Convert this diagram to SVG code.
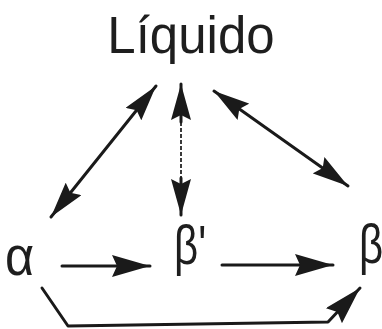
<svg xmlns="http://www.w3.org/2000/svg" width="382" height="329" viewBox="0 0 382 329">
<style>
.lbl{font-family:"Liberation Sans",Arial,sans-serif;fill:#1e1e1e}
.ln{fill:none;stroke:#1a1a1a;stroke-width:3;stroke-linecap:round;stroke-linejoin:round}
.dash{fill:none;stroke:#3a3a3a;stroke-width:2;stroke-dasharray:4 2}
</style>
<defs>
<marker id="ah" viewBox="0 0 36 20" refX="36" refY="10" markerWidth="36" markerHeight="20" markerUnits="userSpaceOnUse" orient="auto-start-reverse">
<path d="M0,0 L36,10 L0,20 L5,10 z" fill="#1a1a1a"/>
</marker>
<marker id="ahw" viewBox="0 0 38 22" refX="38" refY="11" markerWidth="38" markerHeight="22" markerUnits="userSpaceOnUse" orient="auto-start-reverse">
<path d="M0,0 L38,11 L0,22 L5,11 z" fill="#1a1a1a"/>
</marker>
</defs>
<g id="liquido"><text class="lbl" x="191" y="53" font-size="51" text-anchor="middle">Líquido</text></g>
<g id="alpha"><text class="lbl" font-size="56" transform="translate(5,275) scale(0.9,1)">α</text></g>
<g id="betaprime"><text class="lbl" font-size="56" transform="translate(174,264) scale(0.75,1)">β'</text></g>
<g id="beta"><text class="lbl" font-size="56" transform="translate(359,263) scale(0.75,1)">β</text></g>
<g id="connectors">
<line class="ln" x1="156" y1="86" x2="51" y2="217" marker-start="url(#ah)" marker-end="url(#ah)"/>
<line class="dash" x1="181" y1="110" x2="181" y2="190"/>
<line class="ln" x1="181" y1="84" x2="181" y2="122" marker-start="url(#ah)" stroke-width="2"/>
<line class="ln" x1="181" y1="178" x2="181" y2="215" marker-end="url(#ah)" stroke-width="2"/>
<line class="ln" x1="214" y1="91" x2="348" y2="186" marker-start="url(#ah)" marker-end="url(#ah)"/>
<line class="ln" x1="62" y1="266" x2="150" y2="266" marker-end="url(#ahw)"/>
<line class="ln" x1="222" y1="265" x2="333" y2="265" marker-end="url(#ahw)"/>
<path class="ln" d="M42,288 L68,326 L328,322 L360,288" marker-end="url(#ahw)"/>
</g>
</svg>
